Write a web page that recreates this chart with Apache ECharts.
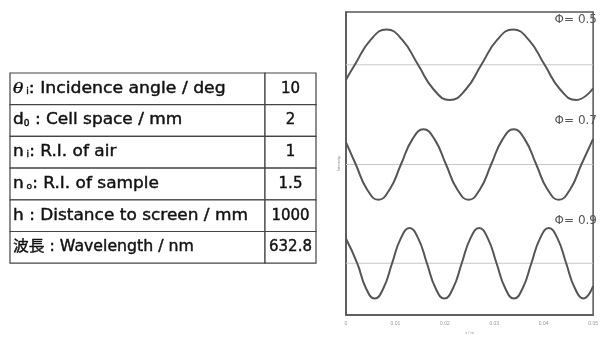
<!DOCTYPE html>
<html><head><meta charset="utf-8">
<script src="https://cdn.jsdelivr.net/npm/echarts@6/dist/echarts.min.js"></script>
<style>html,body{margin:0;padding:0;background:#fff}#c{width:601px;height:340px}</style>
</head><body><div id="c"></div>
<script>
// ---- data ----
const x05 = [0,0.001786,0.004980,0.008194,0.011389,0.014583,0.017778,0.020992,0.024187,0.027381,0.030575,0.033790,0.036984,0.040179,0.043373,0.046587,0.05];
const y05 = [2.407,2.560,2.815,2.920,2.815,2.560,2.305,2.200,2.305,2.560,2.815,2.920,2.815,2.560,2.305,2.200,2.320];
const x07 = [0,0.001984,0.004266,0.006548,0.008829,0.011111,0.013393,0.015675,0.017956,0.020238,0.022520,0.024802,0.027083,0.029365,0.031647,0.033929,0.036210,0.038492,0.040774,0.043056,0.045337,0.047619,0.05];
const y07 = [1.767,1.540,1.285,1.180,1.285,1.540,1.795,1.900,1.795,1.540,1.285,1.180,1.285,1.540,1.795,1.900,1.795,1.540,1.285,1.180,1.285,1.540,1.803];
const x09 = [0,0.002282,0.004043,0.005804,0.007565,0.009325,0.011086,0.012847,0.014608,0.016369,0.018130,0.019891,0.021652,0.023413,0.025174,0.026935,0.028696,0.030456,0.032217,0.033978,0.035739,0.037500,0.039261,0.041022,0.042783,0.044544,0.046305,0.048065,0.05];
const y09 = [0.780,0.530,0.275,0.170,0.275,0.530,0.785,0.890,0.785,0.530,0.275,0.170,0.275,0.530,0.785,0.890,0.785,0.530,0.275,0.170,0.275,0.530,0.785,0.890,0.785,0.530,0.275,0.170,0.296];
const baselines = [2.56, 1.54, 0.53];
const phiLabels = ['Φ= 0.5', 'Φ= 0.7', 'Φ= 0.9'];
const xTicks = [0, 0.01, 0.02, 0.03, 0.04, 0.05];
const tableNames = ['{it|θ}{sub| i}: Incidence angle / deg', 'd{sub|0} : Cell space / mm', 'n{sub| i}: R.I. of air', 'n{sub| o}: R.I. of sample', 'h : Distance to screen / mm', '波長 : Wavelength / nm'];
const tableValues = ['10', '2', '1', '1.5', '1000', '632.8'];

// ---- chart ----
const chart = echarts.init(document.getElementById('c'), null, {renderer: 'canvas'});
const waves = [[x05, y05], [x07, y07], [x09, y09]];
const series = waves.map(([wx, wy]) => ({
  type: 'line', data: wx.map((x, i) => [x, wy[i]]), smooth: 0.5, showSymbol: false,
  lineStyle: {color: '#555', width: 2}, z: 3, silent: true
}));
baselines.forEach(b => series.push({
  type: 'line', data: [[xTicks[0], b], [xTicks[xTicks.length - 1], b]], showSymbol: false,
  lineStyle: {color: '#c8c8c8', width: 1}, z: 2, silent: true
}));

const FONT = '"DejaVu Sans", "Noto Sans CJK JP", sans-serif';
const tblLeft = 10, tblTop = 73, rowH = 31.7, col1 = 255, col2 = 51;
const nameScale = [1.15, 1.13, 1.13, 1.13, 1.13, 1.05];
const graphics = [];
tableNames.forEach((name, i) => {
  const y = tblTop + i * rowH;
  graphics.push({type: 'rect', shape: {x: tblLeft, y: y, width: col1, height: rowH},
    style: {fill: '#fff', stroke: '#444', lineWidth: 1.2}, z: 1});
  graphics.push({type: 'rect', shape: {x: tblLeft + col1, y: y, width: col2, height: rowH},
    style: {fill: '#fff', stroke: '#444', lineWidth: 1.2}, z: 1});
  graphics.push({type: 'text', x: tblLeft + 3, y: y + rowH / 2, scaleX: nameScale[i], z: 2,
    style: {text: name, font: '15px ' + FONT, fill: '#111', stroke: '#111', lineWidth: 0.4,
      verticalAlign: 'middle',
      rich: {sub: {fontSize: 8, fontFamily: FONT, fill: '#111', padding: [6, 0, 0, 0]},
             it: {fontStyle: 'italic', fontFamily: 'DejaVu Serif', fontSize: 15, fill: '#111'}}}});
  graphics.push({type: 'text', x: tblLeft + col1 + col2 / 2, y: y + rowH / 2, z: 2,
    style: {text: tableValues[i], font: '15px ' + FONT, fill: '#111', stroke: '#111', lineWidth: 0.4,
      align: 'center', verticalAlign: 'middle'}});
});
const labelTops = [21, 122, 222];
phiLabels.forEach((t, i) => graphics.push({type: 'text', right: 4, top: labelTops[i] - 7, z: 5,
  style: {text: t, font: '12px "DejaVu Sans", sans-serif', fill: '#555'}}));

chart.setOption({
  animation: false,
  backgroundColor: '#fff',
  grid: {left: 346, right: 3, top: 12, bottom: 18, show: true, borderColor: '#555', borderWidth: 1.5},
  xAxis: {type: 'value', min: xTicks[0], max: xTicks[xTicks.length - 1], interval: 0.01,
    axisLine: {show: true, lineStyle: {color: '#555', width: 1.5}}, axisTick: {show: false},
    splitLine: {show: false},
    axisLabel: {fontSize: 5, color: '#999', margin: 6, formatter: v => String(v)},
    name: 'x / m', nameLocation: 'middle', nameGap: 14, nameTextStyle: {fontSize: 4, color: '#999'}},
  yAxis: {type: 'value', min: 0, max: 3.1, axisLabel: {show: false}, axisTick: {show: false},
    splitLine: {show: false}, axisLine: {show: true, lineStyle: {color: '#555', width: 1.5}},
    name: 'Intensity', nameLocation: 'middle', nameGap: 5, nameTextStyle: {fontSize: 4, color: '#888'}},
  series: series,
  graphic: graphics
});
</script></body></html>
